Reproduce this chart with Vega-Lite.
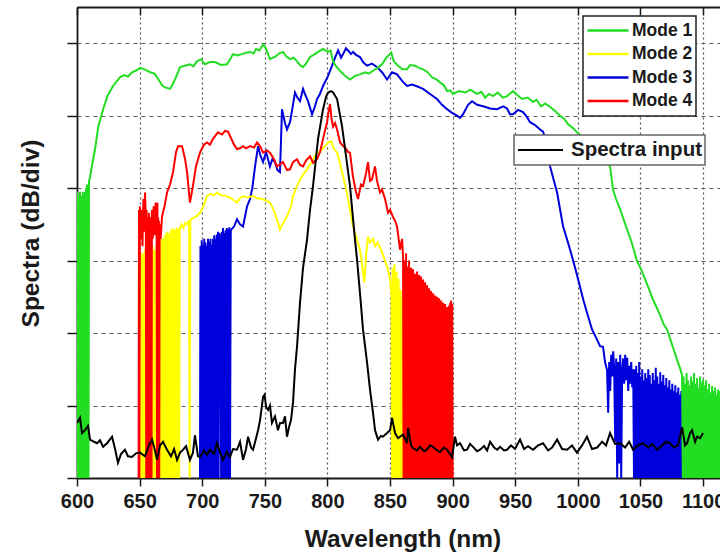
{
"$schema": "https://vega.github.io/schema/vega-lite/v6.json",
"width": 643, "height": 471,
"autosize": {"type": "none"},
"padding": {"left": 77, "top": 7, "right": 0, "bottom": 77},
"background": "white",
"config": {
  "view": {"stroke": null},
  "font": "Liberation Sans",
  "axis": {"labelFont": "Liberation Sans", "titleFont": "Liberation Sans", "labelFontWeight": "bold", "titleFontWeight": "bold", "labelColor": "#1a1a1a", "titleColor": "#1a1a1a", "domainColor": "#1a1a1a", "tickColor": "#1a1a1a"},
  "legend": {"labelFont": "Liberation Sans", "labelFontWeight": "bold", "labelColor": "#1a1a1a", "strokeWidth": 1.5}
},
"datasets": {
"m1": [
{"x":600.0,"y":3.95},{"x":600.4,"y":0},{"x":600.8,"y":3.9},{"x":601.2,"y":0},{"x":601.6,"y":3.85},{"x":602.0,"y":0},{"x":602.4,"y":3.95},{"x":602.8,"y":0},{"x":603.2,"y":3.7},{"x":603.6,"y":0},{"x":604.0,"y":3.9},{"x":604.4,"y":0},{"x":604.8,"y":3.95},{"x":605.2,"y":0},{"x":605.6,"y":3.8},{"x":606.0,"y":0},{"x":606.4,"y":3.95},{"x":606.8,"y":0},{"x":607.2,"y":4.0},{"x":607.6,"y":0},{"x":608.0,"y":4.05},{"x":608.4,"y":0},{"x":608.8,"y":4.0},{"x":609.2,"y":0},{"x":609.6,"y":4.1},
{"x":610.4,"y":4.15},{"x":612.4,"y":4.35},{"x":614.4,"y":4.54},{"x":617.0,"y":4.85},{"x":620.9,"y":5.09},{"x":624.5,"y":5.28},{"x":628.8,"y":5.41},{"x":634.3,"y":5.53},{"x":637.5,"y":5.56},{"x":640.7,"y":5.54},{"x":644.0,"y":5.6},{"x":648.0,"y":5.63},{"x":650.3,"y":5.66},{"x":654.0,"y":5.64},{"x":658.3,"y":5.6},{"x":662.0,"y":5.58},{"x":664.7,"y":5.51},{"x":668.0,"y":5.42},{"x":670.3,"y":5.39},{"x":674.3,"y":5.37},{"x":676.0,"y":5.42},{"x":678.3,"y":5.5},{"x":682.3,"y":5.67},{"x":686.0,"y":5.69},{"x":690.2,"y":5.71},{"x":693.0,"y":5.68},{"x":695.8,"y":5.75},{"x":699.0,"y":5.78},{"x":702.2,"y":5.71},{"x":706.0,"y":5.74},{"x":710.2,"y":5.74},{"x":715.0,"y":5.7},{"x":719.8,"y":5.71},{"x":722.0,"y":5.77},{"x":724.6,"y":5.85},{"x":728.0,"y":5.83},{"x":731.8,"y":5.85},{"x":735.0,"y":5.87},{"x":738.2,"y":5.88},{"x":741.0,"y":5.86},{"x":743.0,"y":5.92},{"x":745.5,"y":5.9},{"x":747.8,"y":5.96},{"x":749.0,"y":5.98},{"x":751.0,"y":5.92},{"x":754.1,"y":5.78},{"x":756.5,"y":5.8},{"x":759.0,"y":5.82},{"x":761.5,"y":5.86},{"x":764.5,"y":5.88},{"x":767.0,"y":5.82},{"x":770.1,"y":5.78},{"x":773.0,"y":5.8},{"x":775.7,"y":5.75},{"x":778.0,"y":5.7},{"x":780.5,"y":5.67},{"x":783.0,"y":5.72},{"x":786.1,"y":5.81},{"x":789.0,"y":5.84},{"x":792.5,"y":5.88},{"x":796.5,"y":5.92},{"x":800.5,"y":5.88},{"x":802.5,"y":5.9},{"x":804.5,"y":5.75},{"x":807.0,"y":5.68},{"x":810.0,"y":5.62},{"x":814.0,"y":5.55},{"x":818.0,"y":5.5},{"x":822.0,"y":5.55},{"x":826.0,"y":5.57},{"x":830.0,"y":5.6},{"x":833.0,"y":5.58},{"x":836.4,"y":5.62},{"x":840.0,"y":5.66},{"x":843.6,"y":5.71},{"x":847.0,"y":5.8},{"x":851.0,"y":5.87},{"x":853.0,"y":5.75},{"x":856.4,"y":5.69},{"x":860.0,"y":5.64},{"x":863.6,"y":5.64},{"x":866.0,"y":5.7},{"x":870.0,"y":5.69},{"x":873.0,"y":5.66},{"x":876.4,"y":5.64},{"x":880.0,"y":5.6},{"x":883.5,"y":5.53},{"x":887.0,"y":5.5},{"x":889.9,"y":5.46},{"x":893.0,"y":5.42},{"x":895.5,"y":5.34},{"x":898.0,"y":5.35},{"x":900.3,"y":5.3},{"x":905.0,"y":5.34},{"x":909.9,"y":5.32},{"x":914.0,"y":5.36},{"x":919.5,"y":5.3},{"x":923.0,"y":5.33},{"x":925.9,"y":5.25},{"x":929.0,"y":5.3},{"x":932.3,"y":5.27},{"x":936.0,"y":5.32},{"x":940.0,"y":5.25},{"x":943.4,"y":5.27},{"x":948.2,"y":5.34},{"x":952.0,"y":5.28},{"x":955.4,"y":5.23},{"x":960.0,"y":5.25},{"x":964.2,"y":5.19},{"x":967.0,"y":5.22},{"x":970.6,"y":5.13},{"x":974.0,"y":5.17},{"x":977.8,"y":5.12},{"x":982.0,"y":5.06},{"x":985.8,"y":5.0},{"x":989.0,"y":4.96},{"x":992.2,"y":4.88},{"x":996.0,"y":4.83},{"x":999.4,"y":4.77},{"x":1003.0,"y":4.72},{"x":1008.0,"y":4.62},{"x":1013.0,"y":4.52},{"x":1018.0,"y":4.45},{"x":1022.0,"y":4.38},{"x":1025.7,"y":4.3},{"x":1028.1,"y":3.98},{"x":1030.5,"y":3.85},{"x":1033.7,"y":3.71},{"x":1039.3,"y":3.43},{"x":1043.0,"y":3.25},{"x":1047.3,"y":2.99},{"x":1050.0,"y":2.9},{"x":1053.7,"y":2.74},{"x":1057.0,"y":2.6},{"x":1060.0,"y":2.46},{"x":1063.0,"y":2.35},{"x":1065.6,"y":2.25},{"x":1068.5,"y":2.12},{"x":1071.2,"y":2.05},{"x":1075.2,"y":1.84},{"x":1077.0,"y":1.75},{"x":1079.2,"y":1.63},{"x":1081.5,"y":1.52},{"x":1083.2,"y":1.42},
{"x":1083.8,"y":0},{"x":1084.4,"y":1.4},{"x":1085.0,"y":0},{"x":1085.6,"y":1.3},{"x":1086.2,"y":0},{"x":1086.8,"y":1.45},{"x":1087.4,"y":0},{"x":1088.0,"y":1.35},{"x":1088.6,"y":0},{"x":1089.2,"y":1.28},{"x":1089.8,"y":0},{"x":1090.4,"y":1.4},{"x":1091.0,"y":0},{"x":1091.6,"y":1.33},{"x":1092.2,"y":0},{"x":1092.8,"y":1.45},{"x":1093.4,"y":0},{"x":1094.0,"y":1.3},{"x":1094.6,"y":0},{"x":1095.2,"y":1.38},{"x":1095.8,"y":0},{"x":1096.4,"y":1.25},{"x":1097.0,"y":0},{"x":1097.6,"y":1.4},{"x":1098.2,"y":0},{"x":1098.8,"y":1.32},{"x":1099.4,"y":0},{"x":1100.0,"y":1.36},{"x":1100.6,"y":0},{"x":1101.2,"y":1.28},{"x":1101.8,"y":0},{"x":1102.4,"y":1.35},{"x":1103.0,"y":0},{"x":1103.6,"y":1.22},{"x":1104.2,"y":0},{"x":1104.8,"y":1.3},{"x":1105.4,"y":0},{"x":1106.0,"y":1.18},{"x":1106.6,"y":0},{"x":1107.2,"y":1.27},{"x":1107.8,"y":0},{"x":1108.4,"y":1.2},{"x":1109.0,"y":0},{"x":1109.6,"y":1.25},{"x":1110.2,"y":0},{"x":1110.8,"y":1.15},{"x":1111.4,"y":0},{"x":1112.0,"y":1.22},{"x":1112.6,"y":0},{"x":1113.2,"y":1.2},{"x":1113.8,"y":0}
],
"m2": [
{"x":649.6,"y":0},{"x":650.0,"y":3.0},{"x":650.4,"y":0},{"x":650.8,"y":3.1},{"x":651.2,"y":0},{"x":651.6,"y":2.95},{"x":652.0,"y":0},{"x":652.4,"y":3.1},{"x":652.8,"y":0},{"x":653.2,"y":3.05},{"x":653.6,"y":0},{"x":654.0,"y":3.15},{"x":654.4,"y":0},{"x":654.8,"y":3.0},{"x":655.2,"y":0},{"x":655.6,"y":3.1},{"x":656.0,"y":0},{"x":656.4,"y":2.9},{"x":656.8,"y":0},{"x":657.2,"y":3.05},{"x":657.6,"y":0},{"x":658.0,"y":3.15},{"x":658.4,"y":0},{"x":658.8,"y":3.0},{"x":659.2,"y":0},{"x":659.6,"y":3.1},{"x":660.0,"y":0},{"x":660.4,"y":3.2},{"x":660.8,"y":0},{"x":661.2,"y":3.05},{"x":661.6,"y":0},{"x":662.0,"y":3.15},{"x":662.4,"y":0},{"x":662.8,"y":3.1},{"x":663.2,"y":0},{"x":663.6,"y":3.2},{"x":664.0,"y":0},{"x":664.4,"y":3.1},{"x":664.8,"y":0},{"x":665.2,"y":3.25},{"x":665.6,"y":0},{"x":666.0,"y":3.15},{"x":666.4,"y":0},{"x":666.8,"y":3.3},{"x":667.2,"y":0},{"x":667.6,"y":3.2},{"x":668.0,"y":0},{"x":668.4,"y":3.3},{"x":668.8,"y":0},{"x":669.2,"y":3.25},{"x":669.6,"y":0},{"x":670.0,"y":3.35},{"x":670.4,"y":0},{"x":670.8,"y":3.3},{"x":671.2,"y":0},{"x":671.6,"y":3.4},{"x":672.0,"y":0},{"x":672.4,"y":3.3},{"x":672.8,"y":0},{"x":673.2,"y":3.38},{"x":673.6,"y":0},{"x":674.0,"y":3.35},{"x":674.4,"y":0},{"x":674.8,"y":3.42},{"x":675.2,"y":0},{"x":675.6,"y":3.35},{"x":676.0,"y":0},{"x":676.4,"y":3.45},{"x":676.8,"y":0},{"x":677.2,"y":3.38},{"x":677.6,"y":0},{"x":678.0,"y":3.43},{"x":678.4,"y":0},{"x":678.8,"y":3.4},{"x":679.2,"y":0},{"x":679.6,"y":3.45},{"x":680.0,"y":0},{"x":680.4,"y":3.42},{"x":680.8,"y":0},{"x":681.2,"y":3.45},{"x":681.6,"y":0},{"x":682.0,"y":3.43},
{"x":683.5,"y":3.5},{"x":685.0,"y":3.45},{"x":686.5,"y":3.52},{"x":688.0,"y":3.5},{"x":689.5,"y":3.56},{"x":690.0,"y":0},{"x":690.5,"y":3.55},{"x":692.0,"y":3.58},{"x":694.0,"y":3.6},{"x":696.0,"y":3.62},{"x":698.2,"y":3.66},{"x":701.0,"y":3.75},{"x":703.8,"y":3.89},{"x":707.0,"y":3.92},{"x":709.5,"y":3.9},{"x":711.8,"y":3.94},{"x":715.0,"y":3.9},{"x":719.8,"y":3.89},{"x":723.0,"y":3.86},{"x":725.5,"y":3.83},{"x":727.8,"y":3.8},{"x":730.2,"y":3.86},{"x":732.6,"y":3.89},{"x":736.0,"y":3.87},{"x":740.6,"y":3.89},{"x":744.0,"y":3.86},{"x":747.8,"y":3.85},{"x":751.0,"y":3.83},{"x":754.1,"y":3.8},{"x":757.0,"y":3.7},{"x":759.7,"y":3.57},{"x":762.1,"y":3.43},{"x":764.0,"y":3.5},{"x":767.7,"y":3.61},{"x":771.0,"y":3.75},{"x":772.5,"y":3.89},{"x":775.0,"y":4.0},{"x":778.1,"y":4.12},{"x":781.0,"y":4.2},{"x":783.7,"y":4.26},{"x":787.0,"y":4.35},{"x":791.7,"y":4.49},{"x":794.0,"y":4.5},{"x":796.5,"y":4.55},{"x":800.5,"y":4.63},{"x":802.9,"y":4.65},{"x":805.0,"y":4.55},{"x":807.7,"y":4.49},{"x":810.0,"y":4.35},{"x":812.5,"y":4.16},{"x":815.0,"y":3.98},{"x":817.0,"y":3.8},{"x":820.4,"y":3.47},{"x":823.6,"y":3.29},{"x":826.0,"y":3.15},{"x":828.0,"y":2.9},{"x":829.5,"y":2.7},{"x":831.0,"y":3.1},{"x":832.4,"y":3.33},{"x":834.0,"y":3.25},{"x":836.4,"y":3.3},{"x":838.0,"y":3.2},{"x":840.0,"y":3.25},{"x":842.8,"y":3.15},{"x":846.0,"y":3.0},{"x":848.0,"y":2.9},{"x":850.0,"y":2.74},{"x":851.2,"y":2.5},
{"x":851.6,"y":0},{"x":852.0,"y":2.9},{"x":852.4,"y":0},{"x":852.8,"y":2.8},{"x":853.2,"y":0},{"x":853.6,"y":2.95},{"x":854.0,"y":0},{"x":854.4,"y":2.7},{"x":854.8,"y":0},{"x":855.2,"y":2.85},{"x":855.6,"y":0},{"x":856.0,"y":2.6},{"x":856.4,"y":0},{"x":856.8,"y":2.75},{"x":857.2,"y":0},{"x":857.6,"y":2.55},{"x":858.0,"y":0},{"x":858.4,"y":2.6},{"x":858.8,"y":0},{"x":859.2,"y":2.5},{"x":859.6,"y":0},{"x":860.0,"y":2.45},{"x":860.4,"y":0},{"x":860.8,"y":2.4},{"x":861.2,"y":0},{"x":861.6,"y":2.3},{"x":862.0,"y":0}
],
"m3": [
{"x":698.2,"y":0},{"x":698.6,"y":3.2},{"x":699.1,"y":0},{"x":699.6,"y":3.28},{"x":700.1,"y":0},{"x":700.6,"y":3.22},{"x":701.1,"y":0},{"x":701.6,"y":3.3},{"x":702.1,"y":0},{"x":702.6,"y":3.25},{"x":703.1,"y":0},{"x":703.6,"y":3.2},{"x":704.1,"y":0},{"x":704.6,"y":3.3},{"x":705.1,"y":0},{"x":705.6,"y":3.26},{"x":706.1,"y":0},{"x":706.6,"y":3.3},{"x":707.1,"y":0},{"x":707.6,"y":3.22},{"x":708.1,"y":0},{"x":708.6,"y":3.3},{"x":709.1,"y":0},{"x":709.6,"y":3.35},{"x":710.1,"y":0},{"x":710.6,"y":3.3},{"x":711.1,"y":0},{"x":711.6,"y":3.36},{"x":712.1,"y":0},{"x":712.6,"y":3.4},{"x":713.1,"y":0},{"x":713.6,"y":3.38},{"x":714.4,"y":3.3},{"x":715.1,"y":0},{"x":715.6,"y":3.4},{"x":716.1,"y":0},{"x":716.6,"y":3.45},{"x":717.1,"y":0},{"x":717.6,"y":3.38},{"x":718.1,"y":0},{"x":718.6,"y":3.42},{"x":719.1,"y":0},{"x":719.6,"y":3.45},{"x":720.1,"y":0},{"x":720.6,"y":3.43},{"x":721.1,"y":0},{"x":721.6,"y":3.46},{"x":722.2,"y":0},{"x":722.8,"y":3.42},
{"x":725.4,"y":3.47},{"x":727.8,"y":3.57},{"x":730.2,"y":3.5},{"x":732.6,"y":3.47},{"x":735.8,"y":3.75},{"x":738.2,"y":3.85},{"x":740.0,"y":4.0},{"x":742.2,"y":4.3},{"x":744.6,"y":4.58},{"x":746.5,"y":4.45},{"x":748.6,"y":4.36},{"x":751.0,"y":4.5},{"x":754.1,"y":4.3},{"x":756.0,"y":4.4},{"x":758.1,"y":4.36},{"x":760.0,"y":4.25},{"x":762.1,"y":4.22},{"x":763.0,"y":4.7},{"x":763.7,"y":5.09},{"x":766.1,"y":4.9},{"x":767.7,"y":4.81},{"x":770.1,"y":4.91},{"x":772.0,"y":5.1},{"x":774.1,"y":5.32},{"x":776.0,"y":5.25},{"x":778.1,"y":5.2},{"x":780.5,"y":5.37},{"x":782.0,"y":5.3},{"x":784.5,"y":5.2},{"x":787.7,"y":5.02},{"x":789.5,"y":5.1},{"x":791.7,"y":5.23},{"x":794.0,"y":5.3},{"x":796.5,"y":5.41},{"x":800.5,"y":5.55},{"x":803.7,"y":5.69},{"x":806.1,"y":5.8},{"x":808.5,"y":5.9},{"x":810.9,"y":5.8},{"x":812.5,"y":5.85},{"x":814.8,"y":5.93},{"x":816.4,"y":5.9},{"x":818.8,"y":5.85},{"x":820.4,"y":5.88},{"x":822.8,"y":5.84},{"x":826.0,"y":5.81},{"x":828.4,"y":5.74},{"x":831.6,"y":5.69},{"x":835.6,"y":5.72},{"x":839.6,"y":5.67},{"x":843.6,"y":5.6},{"x":847.6,"y":5.5},{"x":851.6,"y":5.6},{"x":855.6,"y":5.57},{"x":859.6,"y":5.48},{"x":863.6,"y":5.41},{"x":867.6,"y":5.43},{"x":872.4,"y":5.4},{"x":876.4,"y":5.37},{"x":881.9,"y":5.3},{"x":887.5,"y":5.23},{"x":891.5,"y":5.15},{"x":895.5,"y":5.09},{"x":899.5,"y":5.04},{"x":903.5,"y":5.0},{"x":905.9,"y":4.97},{"x":908.3,"y":5.02},{"x":912.3,"y":5.15},{"x":915.5,"y":5.2},{"x":919.5,"y":5.15},{"x":924.3,"y":5.13},{"x":929.9,"y":5.1},{"x":935.5,"y":5.09},{"x":940.3,"y":5.13},{"x":943.4,"y":5.1},{"x":945.8,"y":5.02},{"x":948.2,"y":5.02},{"x":952.2,"y":5.08},{"x":956.2,"y":5.05},{"x":959.4,"y":4.98},{"x":961.8,"y":4.91},{"x":965.8,"y":4.87},{"x":969.8,"y":4.81},{"x":972.2,"y":4.78},{"x":975.4,"y":4.6},{"x":977.8,"y":4.3},{"x":983.4,"y":3.94},{"x":988.2,"y":3.47},{"x":991.4,"y":3.29},{"x":993.8,"y":3.15},{"x":997.8,"y":2.9},{"x":1001.7,"y":2.64},{"x":1004.5,"y":2.45},{"x":1007.3,"y":2.28},{"x":1011.3,"y":2.05},{"x":1015.3,"y":1.91},{"x":1017.7,"y":1.82},{"x":1020.1,"y":1.81},{"x":1021.7,"y":1.6},{"x":1023.3,"y":1.49},
{"x":1024.2,"y":0.9},{"x":1025.0,"y":1.6},{"x":1025.8,"y":1.2},{"x":1026.6,"y":1.7},{"x":1027.4,"y":1.4},{"x":1028.2,"y":1.75},{"x":1029.0,"y":1.5},{"x":1029.8,"y":0.5},{"x":1030.6,"y":1.65},{"x":1031.4,"y":0},{"x":1032.2,"y":1.6},{"x":1033.0,"y":0.2},{"x":1033.8,"y":1.7},{"x":1034.6,"y":0},{"x":1035.4,"y":1.5},{"x":1036.2,"y":1.65},{"x":1037.0,"y":1.3},{"x":1037.8,"y":1.7},{"x":1038.6,"y":1.35},{"x":1039.4,"y":1.66},{"x":1040.2,"y":1.2},{"x":1041.0,"y":1.55},{"x":1041.8,"y":1.3},{"x":1042.6,"y":1.6},{"x":1043.4,"y":1.25},{"x":1044.2,"y":1.5},
{"x":1044.8,"y":0},{"x":1045.4,"y":1.5},{"x":1046.0,"y":0},{"x":1046.6,"y":1.55},{"x":1047.2,"y":0},{"x":1047.8,"y":1.45},{"x":1048.4,"y":0},{"x":1049.0,"y":1.6},{"x":1049.6,"y":0},{"x":1050.2,"y":1.4},{"x":1050.8,"y":0},{"x":1051.4,"y":1.5},{"x":1052.0,"y":0},{"x":1052.6,"y":1.35},{"x":1053.2,"y":0},{"x":1053.8,"y":1.45},{"x":1054.4,"y":0},{"x":1055.0,"y":1.38},{"x":1055.6,"y":0},{"x":1056.2,"y":1.5},{"x":1056.8,"y":0},{"x":1057.4,"y":1.42},{"x":1058.0,"y":0},{"x":1058.6,"y":1.3},{"x":1059.2,"y":0},{"x":1059.8,"y":1.45},{"x":1060.4,"y":0},{"x":1061.0,"y":1.35},{"x":1061.6,"y":0},{"x":1062.2,"y":1.52},{"x":1062.8,"y":0},{"x":1063.4,"y":1.4},{"x":1064.0,"y":0},{"x":1064.6,"y":1.3},{"x":1065.2,"y":0},{"x":1065.8,"y":1.46},{"x":1066.4,"y":0},{"x":1067.0,"y":1.33},{"x":1067.6,"y":0},{"x":1068.2,"y":1.42},{"x":1068.8,"y":0},{"x":1069.4,"y":1.28},{"x":1070.0,"y":0},{"x":1070.6,"y":1.38},{"x":1071.2,"y":0},{"x":1071.8,"y":1.25},{"x":1072.4,"y":0},{"x":1073.0,"y":1.35},{"x":1073.6,"y":0},{"x":1074.2,"y":1.22},{"x":1074.8,"y":0},{"x":1075.4,"y":1.3},{"x":1076.0,"y":0},{"x":1076.6,"y":1.2},{"x":1077.2,"y":0},{"x":1077.8,"y":1.28},{"x":1078.4,"y":0},{"x":1079.0,"y":1.18},{"x":1079.6,"y":0},{"x":1080.2,"y":1.25},{"x":1080.8,"y":0},{"x":1081.4,"y":1.15},{"x":1082.0,"y":0},{"x":1082.6,"y":1.2},{"x":1083.2,"y":0},{"x":1083.8,"y":1.1},{"x":1084.3,"y":0}
],
"m4": [
{"x":649.2,"y":0},{"x":649.5,"y":3.7},{"x":649.8,"y":0},{"x":650.2,"y":3.75},{"x":650.9,"y":3.3},{"x":651.6,"y":3.7},{"x":652.3,"y":3.2},{"x":653.0,"y":3.85},{"x":653.7,"y":3.4},{"x":654.3,"y":3.94},{"x":655.0,"y":3.6},{"x":655.3,"y":0},{"x":655.6,"y":3.7},{"x":655.9,"y":0},{"x":656.2,"y":3.6},{"x":656.5,"y":0},{"x":656.8,"y":3.5},{"x":657.1,"y":0},{"x":657.4,"y":3.66},{"x":657.7,"y":0},{"x":658.0,"y":3.6},{"x":658.3,"y":0},{"x":658.6,"y":3.55},{"x":658.9,"y":0},{"x":659.2,"y":3.6},{"x":659.5,"y":0},{"x":659.8,"y":3.7},{"x":660.5,"y":3.3},{"x":661.2,"y":3.75},{"x":662.0,"y":3.35},{"x":662.8,"y":3.8},{"x":663.6,"y":3.5},{"x":663.9,"y":0},{"x":664.2,"y":3.8},{"x":664.5,"y":0},{"x":664.8,"y":3.6},{"x":665.1,"y":0},{"x":665.4,"y":3.55},{"x":665.7,"y":0},{"x":666.0,"y":3.5},{"x":666.8,"y":3.3},
{"x":667.9,"y":3.61},{"x":669.9,"y":3.75},{"x":671.9,"y":3.94},{"x":674.3,"y":4.05},{"x":676.7,"y":4.22},{"x":679.1,"y":4.5},{"x":680.7,"y":4.58},{"x":683.9,"y":4.58},{"x":686.3,"y":4.4},{"x":687.9,"y":4.22},{"x":690.2,"y":3.8},{"x":692.6,"y":4.03},{"x":695.0,"y":4.3},{"x":698.2,"y":4.49},{"x":701.4,"y":4.6},{"x":703.8,"y":4.63},{"x":706.2,"y":4.6},{"x":708.6,"y":4.68},{"x":712.6,"y":4.77},{"x":715.8,"y":4.74},{"x":718.2,"y":4.79},{"x":720.6,"y":4.78},{"x":722.2,"y":4.72},{"x":725.4,"y":4.6},{"x":727.8,"y":4.54},{"x":730.2,"y":4.55},{"x":732.6,"y":4.58},{"x":735.0,"y":4.55},{"x":738.2,"y":4.58},{"x":741.4,"y":4.56},{"x":743.8,"y":4.63},{"x":746.2,"y":4.58},{"x":748.6,"y":4.49},{"x":751.8,"y":4.52},{"x":754.1,"y":4.49},{"x":757.3,"y":4.4},{"x":759.7,"y":4.3},{"x":762.1,"y":4.33},{"x":764.5,"y":4.36},{"x":767.7,"y":4.25},{"x":770.1,"y":4.26},{"x":772.5,"y":4.36},{"x":775.7,"y":4.4},{"x":778.1,"y":4.32},{"x":780.5,"y":4.3},{"x":782.9,"y":4.38},{"x":786.1,"y":4.44},{"x":788.5,"y":4.35},{"x":791.7,"y":4.4},{"x":794.1,"y":4.5},{"x":796.5,"y":4.68},{"x":798.1,"y":4.8},{"x":799.7,"y":4.91},{"x":801.3,"y":5.1},{"x":802.1,"y":5.16},{"x":803.3,"y":4.95},{"x":804.5,"y":4.85},{"x":806.1,"y":4.9},{"x":807.7,"y":4.81},{"x":810.1,"y":4.63},{"x":812.5,"y":4.58},{"x":814.1,"y":4.56},{"x":816.4,"y":4.5},{"x":818.0,"y":4.49},{"x":820.4,"y":4.16},{"x":822.8,"y":3.95},{"x":824.4,"y":3.85},{"x":826.8,"y":4.05},{"x":828.4,"y":4.03},{"x":830.8,"y":4.2},{"x":832.4,"y":4.36},{"x":834.0,"y":4.1},{"x":835.6,"y":4.12},{"x":838.0,"y":4.3},{"x":839.6,"y":4.1},{"x":842.0,"y":3.94},{"x":843.6,"y":3.98},{"x":846.0,"y":3.85},{"x":848.4,"y":3.66},{"x":850.0,"y":3.7},{"x":852.4,"y":3.6},{"x":854.0,"y":3.55},{"x":855.6,"y":3.47},{"x":858.0,"y":3.15},{"x":859.6,"y":3.3},
{"x":860.4,"y":3.05},{"x":860.8,"y":0},{"x":861.2,"y":3.0},{"x":861.6,"y":0},{"x":862.0,"y":2.95},{"x":862.4,"y":0},{"x":862.8,"y":3.1},{"x":863.2,"y":0},{"x":863.6,"y":2.92},{"x":864.0,"y":0},{"x":864.4,"y":2.85},{"x":864.8,"y":0},{"x":865.2,"y":3.0},{"x":865.6,"y":0},{"x":866.0,"y":2.78},{"x":866.4,"y":0},{"x":866.8,"y":2.9},{"x":867.2,"y":0},{"x":867.6,"y":2.8},{"x":868.0,"y":0},{"x":868.4,"y":2.88},{"x":868.8,"y":0},{"x":869.2,"y":2.75},{"x":869.6,"y":0},{"x":870.0,"y":2.82},{"x":870.4,"y":0},{"x":870.8,"y":2.78},{"x":871.2,"y":0},{"x":871.6,"y":2.85},{"x":872.0,"y":0},{"x":872.4,"y":2.72},{"x":872.8,"y":0},{"x":873.2,"y":2.8},{"x":873.6,"y":0},{"x":874.0,"y":2.7},{"x":874.4,"y":0},{"x":874.8,"y":2.78},{"x":875.2,"y":0},{"x":875.6,"y":2.65},{"x":876.0,"y":0},{"x":876.4,"y":2.74},{"x":876.8,"y":0},{"x":877.2,"y":2.62},{"x":877.6,"y":0},{"x":878.0,"y":2.7},{"x":878.4,"y":0},{"x":878.8,"y":2.58},{"x":879.2,"y":0},{"x":879.6,"y":2.66},{"x":880.0,"y":0},{"x":880.4,"y":2.55},{"x":880.8,"y":0},{"x":881.2,"y":2.62},{"x":881.6,"y":0},{"x":882.0,"y":2.5},{"x":882.4,"y":0},{"x":882.8,"y":2.58},{"x":883.2,"y":0},{"x":883.6,"y":2.48},{"x":884.0,"y":0},{"x":884.4,"y":2.55},{"x":884.8,"y":0},{"x":885.2,"y":2.45},{"x":885.6,"y":0},{"x":886.0,"y":2.52},{"x":886.4,"y":0},{"x":886.8,"y":2.42},{"x":887.2,"y":0},{"x":887.6,"y":2.5},{"x":888.0,"y":0},{"x":888.4,"y":2.4},{"x":888.8,"y":0},{"x":889.2,"y":2.48},{"x":889.6,"y":0},{"x":890.0,"y":2.38},{"x":890.4,"y":0},{"x":890.8,"y":2.45},{"x":891.2,"y":0},{"x":891.6,"y":2.35},{"x":892.0,"y":0},{"x":892.4,"y":2.42},{"x":892.8,"y":0},{"x":893.2,"y":2.32},{"x":893.6,"y":0},{"x":894.0,"y":2.4},{"x":894.4,"y":0},{"x":894.8,"y":2.3},{"x":895.2,"y":0},{"x":895.6,"y":2.36},{"x":896.0,"y":0},{"x":896.4,"y":2.28},{"x":896.8,"y":0},{"x":897.2,"y":2.38},{"x":897.6,"y":0},{"x":898.0,"y":2.42},{"x":898.4,"y":0},{"x":898.8,"y":2.45},{"x":899.2,"y":0},{"x":899.6,"y":2.4},{"x":900.0,"y":0}
],
"inp": [
{"x":600.0,"y":0.76},{"x":602.4,"y":0.83},{"x":604.0,"y":0.62},{"x":606.4,"y":0.66},{"x":608.8,"y":0.72},{"x":610.4,"y":0.53},{"x":613.6,"y":0.5},{"x":616.0,"y":0.48},{"x":618.4,"y":0.52},{"x":620.8,"y":0.43},{"x":624.0,"y":0.48},{"x":628.0,"y":0.57},{"x":630.4,"y":0.4},{"x":632.7,"y":0.21},{"x":635.1,"y":0.33},{"x":638.3,"y":0.39},{"x":640.7,"y":0.3},{"x":643.9,"y":0.29},{"x":647.1,"y":0.34},{"x":650.3,"y":0.35},{"x":654.3,"y":0.3},{"x":657.5,"y":0.45},{"x":659.9,"y":0.53},{"x":662.3,"y":0.38},{"x":663.9,"y":0.25},{"x":666.3,"y":0.45},{"x":668.7,"y":0.5},{"x":671.9,"y":0.39},{"x":675.1,"y":0.3},{"x":677.5,"y":0.4},{"x":679.9,"y":0.25},{"x":682.3,"y":0.35},{"x":684.7,"y":0.39},{"x":687.1,"y":0.44},{"x":690.2,"y":0.25},{"x":692.6,"y":0.35},{"x":694.2,"y":0.59},{"x":696.6,"y":0.3},{"x":698.2,"y":0.29},{"x":701.4,"y":0.38},{"x":703.8,"y":0.32},{"x":706.2,"y":0.39},{"x":709.4,"y":0.33},{"x":711.8,"y":0.48},{"x":714.2,"y":0.35},{"x":716.6,"y":0.25},{"x":719.8,"y":0.36},{"x":722.2,"y":0.29},{"x":724.6,"y":0.4},{"x":727.8,"y":0.39},{"x":730.2,"y":0.5},{"x":732.6,"y":0.25},{"x":735.0,"y":0.4},{"x":736.6,"y":0.57},{"x":739.0,"y":0.42},{"x":740.6,"y":0.39},{"x":743.0,"y":0.55},{"x":744.6,"y":0.66},{"x":746.2,"y":0.8},{"x":748.6,"y":1.12},{"x":749.8,"y":1.15},{"x":751.0,"y":0.98},{"x":752.6,"y":0.94},{"x":754.1,"y":1.0},{"x":755.7,"y":0.76},{"x":758.1,"y":0.85},{"x":760.5,"y":0.66},{"x":762.1,"y":0.76},{"x":764.5,"y":0.76},{"x":766.1,"y":0.85},{"x":767.7,"y":0.57},{"x":769.3,"y":0.7},{"x":770.9,"y":0.8},{"x":772.5,"y":1.04},{"x":774.1,"y":1.5},{"x":775.7,"y":1.81},{"x":778.1,"y":2.42},{"x":780.5,"y":2.9},{"x":783.7,"y":3.29},{"x":786.1,"y":3.7},{"x":788.5,"y":4.03},{"x":792.5,"y":4.68},{"x":796.5,"y":5.09},{"x":798.9,"y":5.26},{"x":800.5,"y":5.32},{"x":802.9,"y":5.34},{"x":804.5,"y":5.32},{"x":807.7,"y":5.23},{"x":810.1,"y":5.0},{"x":811.7,"y":4.85},{"x":814.1,"y":4.54},{"x":818.0,"y":4.03},{"x":822.0,"y":3.29},{"x":823.6,"y":3.02},{"x":826.0,"y":2.55},{"x":828.4,"y":2.05},{"x":831.6,"y":1.6},{"x":834.0,"y":1.22},{"x":836.4,"y":0.9},{"x":838.0,"y":0.66},{"x":840.4,"y":0.53},{"x":842.8,"y":0.58},{"x":844.4,"y":0.57},{"x":847.6,"y":0.62},{"x":850.0,"y":0.66},{"x":851.6,"y":0.83},{"x":854.0,"y":0.62},{"x":856.4,"y":0.55},{"x":858.0,"y":0.57},{"x":860.4,"y":0.6},{"x":863.6,"y":0.48},{"x":864.4,"y":0.69},{"x":866.8,"y":0.45},{"x":868.4,"y":0.41},{"x":871.6,"y":0.38},{"x":874.0,"y":0.43},{"x":877.2,"y":0.37},{"x":879.5,"y":0.39},{"x":881.9,"y":0.45},{"x":884.3,"y":0.43},{"x":887.5,"y":0.38},{"x":889.9,"y":0.36},{"x":893.1,"y":0.42},{"x":895.5,"y":0.39},{"x":897.9,"y":0.33},{"x":899.5,"y":0.29},{"x":901.9,"y":0.57},{"x":903.5,"y":0.45},{"x":905.9,"y":0.48},{"x":909.1,"y":0.38},{"x":911.5,"y":0.39},{"x":913.9,"y":0.47},{"x":916.3,"y":0.43},{"x":919.5,"y":0.37},{"x":921.9,"y":0.39},{"x":925.1,"y":0.44},{"x":927.5,"y":0.38},{"x":929.9,"y":0.5},{"x":933.1,"y":0.42},{"x":935.5,"y":0.39},{"x":937.9,"y":0.43},{"x":941.0,"y":0.38},{"x":943.4,"y":0.39},{"x":946.6,"y":0.45},{"x":949.8,"y":0.4},{"x":953.8,"y":0.53},{"x":957.0,"y":0.4},{"x":960.2,"y":0.44},{"x":964.2,"y":0.39},{"x":968.2,"y":0.45},{"x":972.2,"y":0.48},{"x":976.2,"y":0.38},{"x":979.4,"y":0.42},{"x":983.4,"y":0.53},{"x":987.4,"y":0.4},{"x":991.4,"y":0.39},{"x":995.3,"y":0.45},{"x":999.3,"y":0.35},{"x":1003.3,"y":0.45},{"x":1007.3,"y":0.57},{"x":1011.3,"y":0.4},{"x":1015.3,"y":0.42},{"x":1019.3,"y":0.5},{"x":1022.5,"y":0.45},{"x":1025.7,"y":0.62},{"x":1029.7,"y":0.47},{"x":1033.7,"y":0.48},{"x":1037.7,"y":0.42},{"x":1040.9,"y":0.5},{"x":1044.1,"y":0.39},{"x":1048.1,"y":0.45},{"x":1052.1,"y":0.48},{"x":1056.1,"y":0.42},{"x":1059.3,"y":0.47},{"x":1063.3,"y":0.39},{"x":1067.2,"y":0.45},{"x":1070.4,"y":0.5},{"x":1073.6,"y":0.48},{"x":1076.8,"y":0.42},{"x":1080.0,"y":0.45},{"x":1083.2,"y":0.7},{"x":1085.6,"y":0.45},{"x":1087.2,"y":0.48},{"x":1089.6,"y":0.62},{"x":1091.2,"y":0.66},{"x":1093.6,"y":0.5},{"x":1095.2,"y":0.57},{"x":1097.6,"y":0.55},{"x":1100.0,"y":0.62}
]
},
"encoding": {
  "x": {"field": "x", "type": "quantitative", "scale": {"domain": [600, 1113.5], "nice": false, "zero": false},
    "axis": {"orient": "bottom", "values": [600,650,700,750,800,850,900,950,1000,1050,1100], "format": "d", "title": "Wavelength (nm)", "labelFontSize": 20, "labelPadding": 5, "tickSize": 8, "tickWidth": 1.5, "domainWidth": 1.8, "grid": true, "gridDash": [2,3], "gridColor": "#555", "gridWidth": 1.2, "labelFlush": false, "labelOverlap": false, "titleFontSize": 24.5, "titleX": 325.5, "titleY": 68, "titleBaseline": "alphabetic", "titleAlign": "center"}},
  "y": {"field": "y", "type": "quantitative", "scale": {"domain": [0, 6.5], "nice": false, "zero": false},
    "axis": {"orient": "left", "values": [0,1,2,3,4,5,6], "labels": false, "tickSize": 10, "tickWidth": 1.5, "domainWidth": 1.8, "grid": true, "gridDash": [4,4], "gridColor": "#555", "gridWidth": 1.2, "title": "Spectra (dB/div)", "titleFontSize": 24.5, "titleX": -38.5, "titleY": 226, "titleAngle": 270, "titleBaseline": "alphabetic", "titleAlign": "center"}}
},
"layer": [
{
  "layer": [
    {
      "data": {"name": "m3"},
      "mark": {"type": "line", "strokeWidth": 2, "clip": true},
      "encoding": {
        "color": {"datum": "Mode 3", "type": "nominal", "scale": {"domain": ["Mode 1","Mode 2","Mode 3","Mode 4"], "range": ["#22dd22","#ffff00","#0000dd","#ff0000"]},
          "legend": {"title": null, "orient": "none", "legendX": 506, "legendY": 9, "symbolType": "stroke", "symbolSize": 1681, "symbolStrokeWidth": 2.5, "clipHeight": 23, "rowPadding": 0.5, "padding": 3, "labelFontSize": 17.5, "labelOffset": 2, "strokeColor": "#222", "fillColor": "#ffffff"}}
      }
    },
    {
      "data": {"name": "m1"},
      "mark": {"type": "line", "strokeWidth": 2, "clip": true},
      "encoding": {"color": {"datum": "Mode 1", "type": "nominal"}}
    },
    {
      "data": {"name": "m2"},
      "mark": {"type": "line", "strokeWidth": 2, "clip": true},
      "encoding": {"color": {"datum": "Mode 2", "type": "nominal"}}
    },
    {
      "data": {"name": "m4"},
      "mark": {"type": "line", "strokeWidth": 2, "clip": true},
      "encoding": {"color": {"datum": "Mode 4", "type": "nominal"}}
    }
  ]
},
{
  "data": {"name": "inp"},
  "mark": {"type": "line", "strokeWidth": 2, "clip": true},
  "encoding": {
    "x": {"field": "x", "type": "quantitative",
      "axis": {"orient": "top", "values": [600,650,700,750,800,850,900,950,1000,1050,1100], "labels": false, "title": null, "grid": false, "tickSize": -8, "tickWidth": 1.5, "domainWidth": 1.8}},
    "stroke": {"datum": "Spectra input", "type": "nominal", "scale": {"domain": ["Spectra input"], "range": ["#000000"]},
      "legend": {"title": null, "orient": "none", "legendX": 437, "legendY": 128, "symbolType": "stroke", "symbolSize": 2025, "symbolStrokeWidth": 2, "clipHeight": 24, "padding": 3, "labelFontSize": 20.5, "labelOffset": 7, "strokeColor": "#666", "fillColor": "#ffffff"}}
  }
}
]
}
